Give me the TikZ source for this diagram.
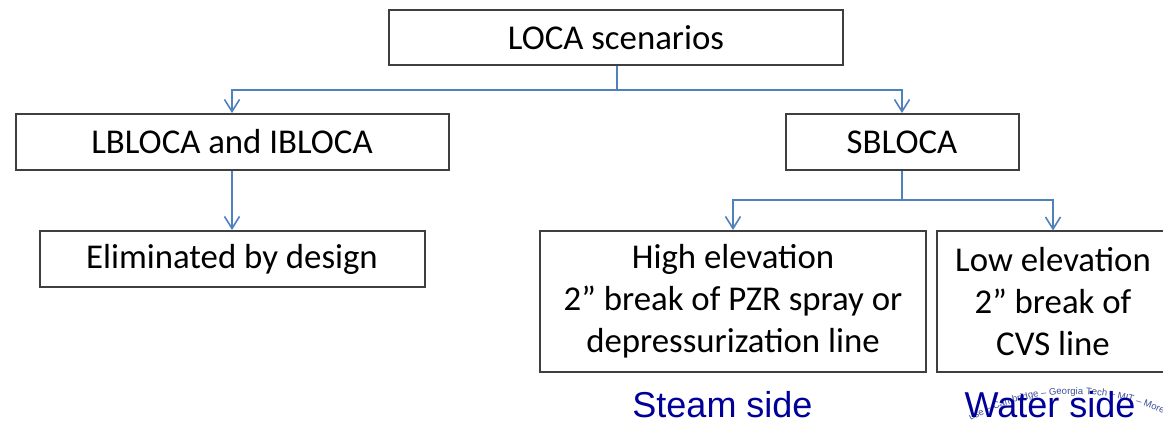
\documentclass[tikz,border=0pt]{standalone}
\usepackage{fontspec}
\setmainfont{Carlito}
\newfontfamily\arialf{Liberation Sans}
\usetikzlibrary{arrows.meta,decorations.text}
\definecolor{conn}{HTML}{4F81BD}
\definecolor{boxline}{HTML}{3F3F3F}
\definecolor{sidetext}{RGB}{0,0,153}
\definecolor{wm}{RGB}{60,80,150}
\tikzset{
  box/.style={draw=boxline, line width=2pt, fill=white, inner sep=0pt, align=center,
    font=\fontsize{34.8}{42}\selectfont, text=black},
  conline/.style={draw=conn, line width=1.8pt},
  arr/.style={conline, -{Straight Barb[length=12pt,width=15pt,line width=1.6pt]}},
  side/.style={font=\arialf\fontsize{36}{40}\selectfont, text=sidetext, anchor=base}
}
\begin{document}
\begin{tikzpicture}[x=1pt,y=-1pt]
\useasboundingbox (0,0) rectangle (1163,422);
\fill[white] (0,0) rectangle (1163,422);
\node[box, minimum width=454pt, minimum height=55.5pt] (top) at (616,37.3) {LOCA scenarios};
\node[box, minimum width=433pt, minimum height=56pt] (lb) at (232,142) {LBLOCA and IBLOCA};
\node[box, minimum width=385pt, minimum height=56pt] (el) at (232,259) {Eliminated by design};
\node[box, minimum width=233pt, minimum height=56pt] (sb) at (902,142) {SBLOCA};
\node[box, minimum width=386pt, minimum height=141pt] (hi) at (733,301.5) {High elevation\\2” break of PZR spray or\\depressurization line};
\node[box, minimum width=232pt, minimum height=140pt] (lo) at (1053,301.5) {Low elevation\\2” break of\\CVS line};
\coordinate (j1) at (617,90);
\coordinate (j2) at (902,200);
\draw[conline] (top.south -| j1) -- (j1);
\draw[arr] (j1) -| (lb.north);
\draw[arr] (j1) -| (sb.north);
\draw[arr] (lb.south) -- (el.north);
\draw[conline] (sb.south -| j2) -- (j2);
\draw[arr] (j2) -| (hi.north);
\draw[arr] (j2) -| (lo.north);
\coordinate (wmc) at (1074,604);
\path[decorate, decoration={text along path, text align=center,
  text={|\arialf\fontsize{9.5}{9.5}\selectfont\color{wm}|use – Cambridge – Georgia Tech – MIT – Morehou}}]
  (wmc) ++(225:210) arc[start angle=225, end angle=315, radius=210];
\node[side] (steam) at (722.5,417) {Steam side};
\node[side] (water) at (1050,417) {Water side};
\end{tikzpicture}
\end{document}
